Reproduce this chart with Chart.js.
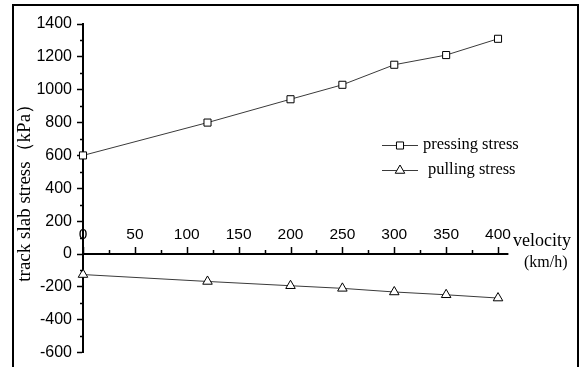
<!DOCTYPE html>
<html>
<head>
<meta charset="utf-8">
<script src="https://cdn.jsdelivr.net/npm/chart.js@4/dist/chart.umd.min.js"></script>
<style>
html,body{margin:0;padding:0;background:#fff;}
#wrap{position:relative;width:580px;height:367px;}
</style>
</head>
<body>
<div id="wrap"><canvas id="c" width="580" height="367"></canvas></div>
<script>
// ---- data ----
const velocities = [0, 120, 200, 250, 300, 350, 400];
const pressingStress = [600, 800, 942, 1030, 1152, 1211, 1310];
const pullingStress = [-125, -167, -193, -209, -231, -248, -268];
const seriesNames = ['pressing stress', 'pulling stress'];
const xTickValues = [0, 50, 100, 150, 200, 250, 300, 350, 400];
const yTickStep = 200;
const yAxisTitle = 'track slab stress（kPa）';
const xAxisTitle = ['velocity', '(km/h)'];

const SANS = '"Liberation Sans", Arial, sans-serif';
const SERIF = '"Liberation Serif", "Times New Roman", serif';

const decorPlugin = {
  id: 'decor',
  afterDraw(chart) {
    const ctx = chart.ctx;
    const xs = chart.scales.x, ys = chart.scales.y;
    const ca = chart.chartArea;
    ctx.save();
    // outer frame
    ctx.strokeStyle = '#000';
    ctx.lineWidth = 2;
    ctx.beginPath();
    ctx.moveTo(13, 400); ctx.lineTo(13, 5); ctx.lineTo(578, 5); ctx.lineTo(578, 400);
    ctx.stroke();

    // y minor ticks
    ctx.lineWidth = 1.5;
    ctx.beginPath();
    for (let v = ys.min + yTickStep / 2; v < ys.max; v += yTickStep) {
      const py = Math.round(ys.getPixelForValue(v)) + 0.5;
      ctx.moveTo(ca.left - 3, py); ctx.lineTo(ca.left, py);
    }
    ctx.stroke();

    // x axis at y = 0
    const y0 = Math.round(ys.getPixelForValue(0));
    ctx.lineWidth = 2;
    ctx.beginPath();
    ctx.moveTo(ca.left, y0); ctx.lineTo(ca.right, y0);
    ctx.stroke();
    ctx.lineWidth = 1.5;
    ctx.beginPath();
    for (let i = 0; i < xTickValues.length; i++) {
      const px = Math.round(xs.getPixelForValue(xTickValues[i])) + 0.5;
      ctx.moveTo(px, y0); ctx.lineTo(px, y0 - 7);
      if (i < xTickValues.length - 1) {
        const mx = Math.round(xs.getPixelForValue((xTickValues[i] + xTickValues[i + 1]) / 2)) + 0.5;
        ctx.moveTo(mx, y0); ctx.lineTo(mx, y0 - 4);
      }
    }
    ctx.stroke();
    ctx.fillStyle = '#000';
    ctx.font = '15.5px ' + SANS;
    ctx.textAlign = 'center';
    ctx.textBaseline = 'middle';
    for (const v of xTickValues) {
      ctx.fillText(String(v), xs.getPixelForValue(v), y0 - 19);
    }
    // x axis title
    ctx.textAlign = 'left';
    ctx.font = '18px ' + SERIF;
    ctx.fillText(xAxisTitle[0], 513, y0 - 13);
    ctx.font = '16px ' + SERIF;
    ctx.fillText(xAxisTitle[1], 524, y0 + 9);

    // legend
    const items = [
      {ds: chart.data.datasets[0], y: 145, tx: 423},
      {ds: chart.data.datasets[1], y: 170, tx: 428}
    ];
    ctx.font = '16.5px ' + SERIF;
    for (const it of items) {
      ctx.strokeStyle = it.ds.borderColor;
      ctx.lineWidth = 1;
      ctx.beginPath();
      ctx.moveTo(382, it.y + 0.5); ctx.lineTo(418, it.y + 0.5);
      ctx.stroke();
      ctx.fillStyle = '#fff';
      ctx.strokeStyle = '#000';
      Chart.helpers.drawPoint(ctx, {
        pointStyle: it.ds.pointStyle,
        radius: it.ds.pointRadius,
        rotation: 0,
        borderWidth: 1
      }, 400, it.y + 0.5);
      ctx.fillStyle = '#000';
      ctx.textBaseline = 'middle';
      ctx.fillText(it.ds.label, it.tx, it.y);
    }
    ctx.restore();
  }
};

new Chart(document.getElementById('c'), {
  type: 'line',
  data: {
    datasets: [
      {
        label: seriesNames[0],
        data: velocities.map((v, i) => ({x: v, y: pressingStress[i]})),
        borderColor: '#3a3a3a',
        borderWidth: 1,
        pointStyle: 'rect',
        pointRadius: 5,
        pointBackgroundColor: '#fff',
        pointBorderColor: '#000',
        pointBorderWidth: 1,
        tension: 0,
        clip: false
      },
      {
        label: seriesNames[1],
        data: velocities.map((v, i) => ({x: v, y: pullingStress[i]})),
        borderColor: '#3a3a3a',
        borderWidth: 1,
        pointStyle: 'triangle',
        pointRadius: 5.5,
        pointBackgroundColor: '#fff',
        pointBorderColor: '#000',
        pointBorderWidth: 1,
        tension: 0,
        clip: false
      }
    ]
  },
  options: {
    responsive: false,
    animation: false,
    events: [],
    layout: {padding: {left: 0, right: 71.6, top: 24, bottom: 14.4}},
    plugins: {legend: {display: false}, tooltip: {enabled: false}},
    scales: {
      x: {
        type: 'linear',
        display: false,
        min: 0,
        max: 410
      },
      y: {
        type: 'linear',
        position: 'left',
        min: -600,
        max: 1400,
        afterFit(scale) {
          scale.width = 83;
          scale.paddingTop = 0; scale.paddingBottom = 0;
        },
        border: {display: true, color: '#000', width: 2},
        grid: {drawOnChartArea: false, drawTicks: true, tickLength: 6, tickColor: '#000', tickWidth: 1.5},
        ticks: {stepSize: yTickStep, color: '#000', padding: 5, font: {family: SANS, size: 16},
          callback: (v) => String(v)},
        title: {display: true, text: yAxisTitle, color: '#000', font: {family: SERIF, size: 19}, padding: {top: 14, bottom: 0}}
      }
    }
  },
  plugins: [decorPlugin]
});
</script>
</body>
</html>
